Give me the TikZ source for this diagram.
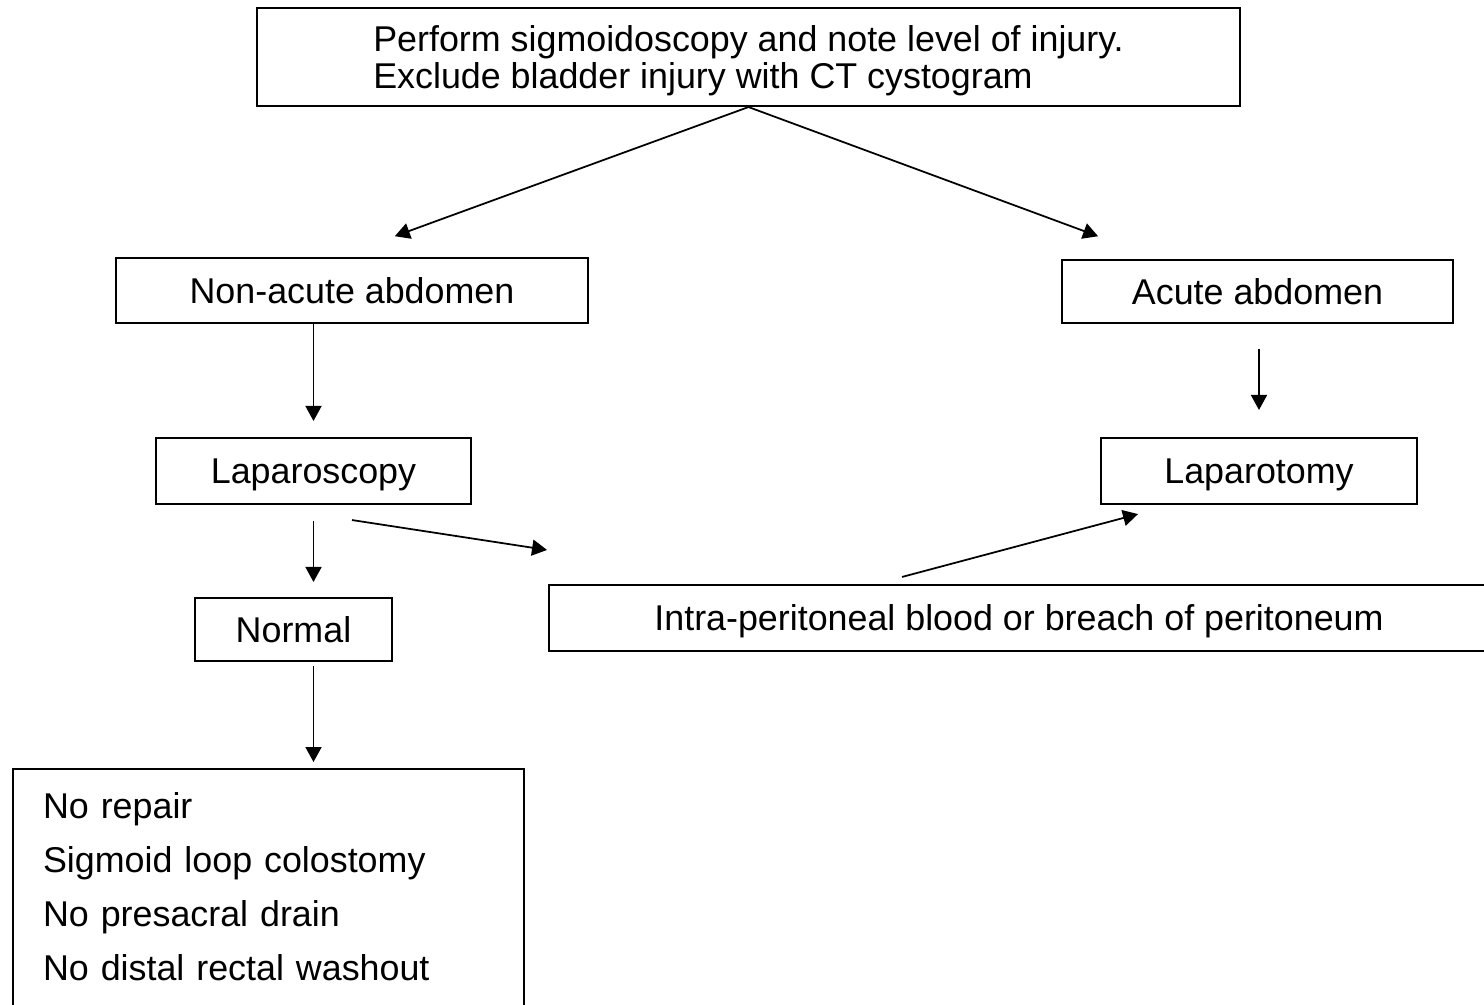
\documentclass[tikz,border=0pt]{standalone}
\usepackage{fontspec}
\setmainfont{Liberation Sans}
\usetikzlibrary{arrows.meta}

\begin{document}
\begin{tikzpicture}[x=0.02cm,y=-0.02cm,>={Triangle[length=0.3cm,width=0.32cm]},line width=1pt]
  \tikzstyle{frame}=[draw,line width=1.2pt,inner sep=0pt]
  \tikzstyle{box}=[frame,text depth=0pt,font=\fontsize{20.4}{21}\selectfont]
  \tikzstyle{arr}=[->]

  \useasboundingbox (0,0) rectangle (1484,1004);

  \node[box,minimum width=19.66cm,minimum height=1.96cm,align=left] (sigmo) at (748.5,57)
    {Perform sigmoidoscopy and note level of injury.\\Exclude bladder injury with CT cystogram};
  \node[box,minimum width=9.44cm,minimum height=1.3cm] (nonacute) at (352,290.5) {Non-acute abdomen};
  \node[box,minimum width=7.82cm,minimum height=1.26cm] (acute) at (1257.5,291.5) {Acute abdomen};
  \node[box,minimum width=6.3cm,minimum height=1.32cm] (lapscopy) at (313.5,471) {Laparoscopy};
  \node[box,minimum width=6.32cm,minimum height=1.32cm] (lapotomy) at (1259,471) {Laparotomy};
  \node[box,minimum width=3.94cm,minimum height=1.26cm] (normal) at (293.5,629.5) {Normal};
  \node[box,minimum width=18.8cm,minimum height=1.32cm] (intra) at (1019,618) {Intra-peritoneal blood or breach of peritoneum};
  \node[frame,anchor=north west,align=left,text width=9.02cm,inner xsep=0.6cm,inner ysep=0.46cm,
    text depth=3.8cm,font=\fontsize{20.4}{30.9}\selectfont] (result) at (12,768)
    {No repair\\Sigmoid loop colostomy\\No presacral drain\\No distal rectal washout};

  \draw[arr,shorten >=1.21cm] (sigmo.south) -- ([xshift=-0.28cm]nonacute.north);
  \draw[arr,shorten >=1.31cm] (sigmo.south) -- ([xshift=-1.96cm]acute.north);
  \draw[arr,shorten >=0.32cm] (lapscopy.north |- nonacute.south) -- (lapscopy.north);
  \draw[arr,shorten <=0.5cm,shorten >=0.54cm] (lapotomy.north |- acute.south) -- (lapotomy.north);
  \draw[arr,shorten <=0.32cm,shorten >=0.3cm] (lapscopy.south) -- (lapscopy.south |- normal.north);
  \draw[arr] ([xshift=0.77cm,yshift=-0.3cm]lapscopy.south) -- ([xshift=-0.02cm,yshift=0.68cm]intra.north west);
  \draw[arr] ([xshift=-2.34cm,yshift=0.14cm]intra.north) -- ([xshift=-2.42cm,yshift=-0.18cm]lapotomy.south);
  \draw[arr,shorten <=0.08cm,shorten >=0.12cm] (lapscopy.south |- normal.south) -- (lapscopy.south |- result.north);

\end{tikzpicture}
\end{document}
